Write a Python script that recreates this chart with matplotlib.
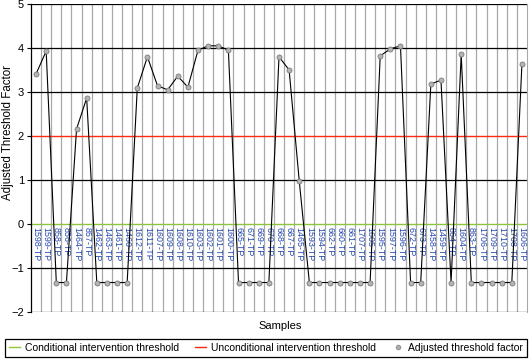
import matplotlib

matplotlib.use("Agg")
import matplotlib.pyplot as plt
from matplotlib.lines import Line2D

plt.rcParams["font.family"] = ["Liberation Sans", "DejaVu Sans"]

samples = [
    "1598-TP", "1599-TP", "858-TP", "856-TP", "1464-TP", "857-TP", "1462-TP",
    "1463-TP", "1461-TP", "1460-TP", "1612-TP", "1611-TP", "1607-TP", "1609-TP",
    "1608-TP", "1610-TP", "1603-TP", "1602-TP", "1601-TP", "1600-TP", "665-TP",
    "671-TP", "669-TP", "670-TP", "668-TP", "667-TP", "1465-TP", "1593-TP",
    "1594-TP", "662-TP", "660-TP", "661-TP", "1707-TP", "1605-TP", "1595-TP",
    "1597-TP", "1596-TP", "672-TP", "673-TP", "1458-TP", "1459-TP", "864-TP",
    "1604-TP", "863-TP", "1706-TP", "1709-TP", "1710-TP", "1708-TP", "1606-TP",
]
factor = [
    3.41, 3.93, -1.33, -1.33, 2.16, 2.86, -1.33, -1.33, -1.33, -1.33,
    3.09, 3.80, 3.14, 3.05, 3.36, 3.11, 3.95, 4.05, 4.05, 3.95,
    -1.33, -1.33, -1.33, -1.33, 3.80, 3.50, 0.98, -1.33, -1.33, -1.33,
    -1.33, -1.33, -1.33, -1.33, 3.82, 3.98, 4.05, -1.33, -1.33, 3.18,
    3.27, -1.33, 3.86, -1.33, -1.33, -1.33, -1.33, -1.33, 3.64,
]
conditional_threshold = 0
unconditional_threshold = 2
y_ticks = [-2, -1, 0, 1, 2, 3, 4, 5]

fig = plt.figure(figsize=(5.32, 3.64), dpi=100)
ax = fig.add_axes([31 / 532, 1 - 312 / 364, 496 / 532, 308 / 364])

n = len(samples)
x = list(range(n))
ax.set_xlim(-0.5, n - 0.5)
ax.set_ylim(min(y_ticks), max(y_ticks))

for i in range(n - 1):
    ax.axvline(i + 0.5, color="#a8a8a8", lw=0.9, zorder=1)
for t in y_ticks:
    if t not in (conditional_threshold, unconditional_threshold):
        ax.axhline(t, color="black", lw=0.9, zorder=1)

green = "#8cc63f"
red = "#ff2a10"
ax.plot([-0.5, n - 0.5], [conditional_threshold] * 2, color=green, lw=1.0, zorder=2)
ax.plot([-0.5, n - 0.5], [unconditional_threshold] * 2, color=red, lw=1.0, zorder=2)

for xi, name in zip(x, samples):
    ax.text(xi, conditional_threshold - 0.07, name, rotation=-90, ha="center",
            va="top", fontsize=6.4, color="#2347b0", zorder=3)

ax.plot(x, factor, color="black", lw=0.8, marker="o", markersize=3.6,
        markerfacecolor="#b4b4b4", markeredgecolor="#7a7a7a",
        markeredgewidth=0.6, zorder=4)

ax.set_yticks(y_ticks)
ax.set_yticklabels([f"{t}".replace("-", "\u2212") for t in y_ticks])
ax.set_xticks([])
ax.tick_params(axis="y", labelsize=8, length=3, width=0.8, pad=2)
for s in ("top", "bottom"):
    ax.spines[s].set_visible(False)
ax.spines["left"].set_linewidth(0.9)
ax.spines["right"].set_color("#a8a8a8")
fig.text(8 / 532, 1 - 132 / 364, "Adjusted Threshold Factor", rotation=90,
         ha="center", va="center", fontsize=8.3)
fig.text(280 / 532, 1 - 326 / 364, "Samples", ha="center", va="center", fontsize=8)

handles = [
    Line2D([], [], color=green, lw=1.0),
    Line2D([], [], color=red, lw=1.0),
    Line2D([], [], color="none", marker="o", markersize=3,
           markerfacecolor="#b4b4b4", markeredgecolor="#9a9a9a"),
]
labels = ["Conditional intervention threshold",
          "Unconditional intervention threshold",
          "Adjusted threshold factor"]
leg = fig.legend(handles, labels, loc="lower left", ncol=3, mode="expand",
                 bbox_to_anchor=(5 / 532, 7 / 364, 522 / 532, 21 / 364),
                 fontsize=7.5, handlelength=1.0, handletextpad=0.5,
                 borderaxespad=0, fancybox=False, framealpha=1,
                 edgecolor="black", borderpad=0.4)
leg.get_frame().set_linewidth(0.9)

fig.savefig("out.png", dpi=100)
